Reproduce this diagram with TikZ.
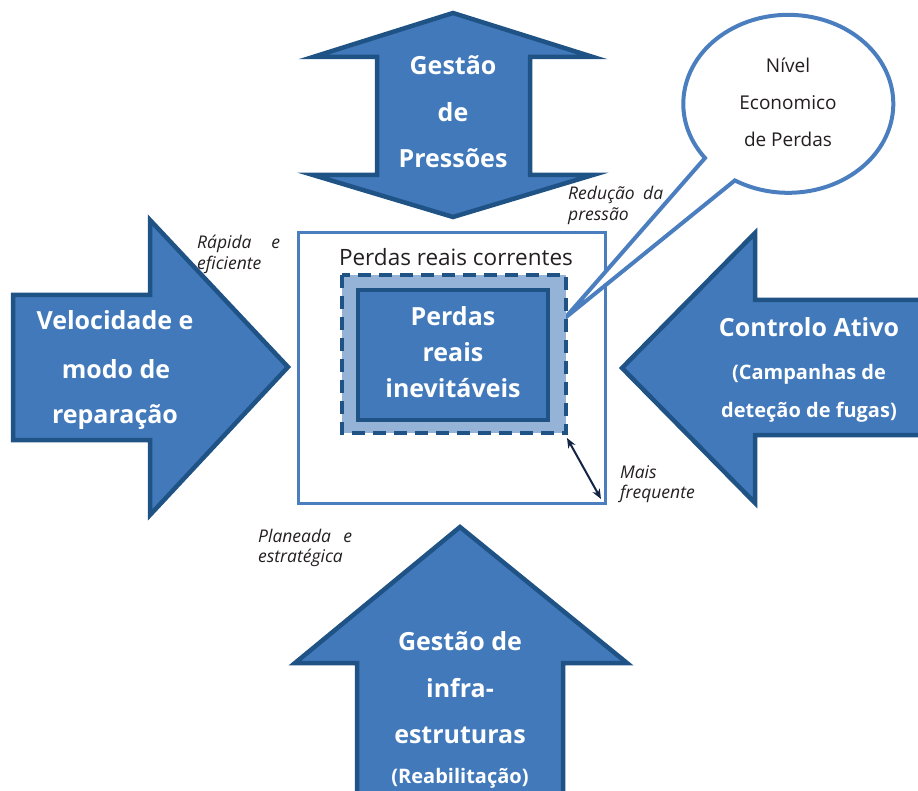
\documentclass[tikz,border=0pt]{standalone}
\usepackage{fontspec}
\setmainfont{Open Sans}
\usetikzlibrary{arrows.meta}
\definecolor{arrowfill}{RGB}{65,121,187}
\definecolor{arrowline}{RGB}{31,82,133}
\definecolor{boxline}{RGB}{74,126,190}
\definecolor{softfill}{RGB}{149,179,215}
\definecolor{ink}{RGB}{35,31,32}
\definecolor{navy}{RGB}{20,35,70}
\tikzset{
  bigarrow/.style={fill=arrowfill, draw=arrowline, line width=4.5pt, line join=miter},
  boldw/.style={anchor=base, inner sep=0pt, text=white, font=\fontsize{25}{30}\selectfont\bfseries},
  smallw/.style={anchor=base, inner sep=0pt, text=white, font=\fontsize{20}{24}\selectfont\bfseries},
  plain/.style={anchor=base, inner sep=0pt, text=ink},
  note/.style={anchor=base west, inner sep=0pt, text=ink, font=\fontsize{17.5}{20}\selectfont\itshape},
}
\begin{document}
\begin{tikzpicture}[x=1pt, y=-1pt]
\useasboundingbox (0,0) rectangle (918,791);
\clip (0,0) rectangle (918,791);

% four surrounding block arrows
\draw[bigarrow] (453,13) -- (593,57) -- (530,57) -- (530,175) -- (593,175) -- (453,217)
  -- (313,175) -- (377,175) -- (377,57) -- (313,57) -- cycle;
\draw[bigarrow] (13,295) -- (150,295) -- (150,220) -- (288,367) -- (150,515) -- (150,440)
  -- (13,440) -- cycle;
\draw[bigarrow] (935,300) -- (755,300) -- (755,233) -- (622,368) -- (755,503) -- (755,435)
  -- (935,435) -- cycle;
\draw[bigarrow] (460,527) -- (627,663) -- (563,663) -- (563,810) -- (357,810) -- (357,663)
  -- (295,663) -- cycle;

% outer box: current real losses
\draw[boxline, line width=3pt] (298,233) rectangle (605,503);

% speech callout with its tail
\coordinate (tip) at (565,318);
\draw[boxline, line width=4pt, fill=white, line join=miter]
  (tip) -- (705,158) arc[start angle=142.5, end angle=480.6, x radius=105, y radius=89] -- cycle;

% dashed band and inner box
\draw[arrowline, line width=4pt, fill=softfill, dash pattern=on 13pt off 8pt] (342,275) rectangle (566,433);
\draw[arrowline, line width=4pt, fill=arrowfill] (358,290) rectangle (548,420);

% distance marker
\coordinate (da) at (567,438);
\coordinate (db) at (601,499);
\draw[navy, line width=2pt, {Stealth[length=10pt,width=8pt]}-{Stealth[length=10pt,width=8pt]}] (da) -- (db);

% arrow captions
\node[boldw] (t1) at (453,75) {Gestão};
\node[boldw] (t2) at (453,122) {de};
\node[boldw] (t3) at (453,168) {Pressões};

\node[boldw] (l1) at (115,330) {Velocidade e};
\node[boldw] (l2) at (116,378) {modo de};
\node[boldw] (l3) at (115,423) {reparação};

\node[boldw] (r1) at (809,337) {Controlo Ativo};
\node[smallw] (r2) at (809,380) {(Campanhas de};
\node[smallw] (r3) at (809,417) {deteção de fugas)};

\node[boldw] (b1) at (460,650) {Gestão de};
\node[boldw] (b2) at (460,697) {infra-};
\node[boldw] (b3) at (460,743) {estruturas};
\node[smallw] (b4) at (460,783) {(Reabilitação)};

\node[boldw] (i1) at (453,326) {Perdas};
\node[boldw] (i2) at (453,362) {reais};
\node[boldw] (i3) at (453,397) {inevitáveis};

\node[plain, font=\fontsize{22.5}{27}\selectfont] (cur) at (456,266) {Perdas reais correntes};

\node[plain, font=\fontsize{19}{23}\selectfont] (c1) at (788,73) {Nível};
\node[plain, font=\fontsize{19}{23}\selectfont] (c2) at (788,110) {Economico};
\node[plain, font=\fontsize{19}{23}\selectfont] (c3) at (788,147) {de Perdas};

% italic side notes
\node[note] (n1) at (197,249) {\makebox[83pt][s]{Rápida e}};
\node[note] (n2) at (197,270) {eficiente};
\node[note] (n3) at (568,200) {\makebox[95pt][s]{Redução da}};
\node[note] (n4) at (568,221) {pressão};
\node[note] (n5) at (620,478) {Mais};
\node[note] (n6) at (620,498) {frequente};
\node[note] (n7) at (258,542) {\makebox[94pt][s]{Planeada e}};
\node[note] (n8) at (258,562) {estratégica};
\end{tikzpicture}
\end{document}
